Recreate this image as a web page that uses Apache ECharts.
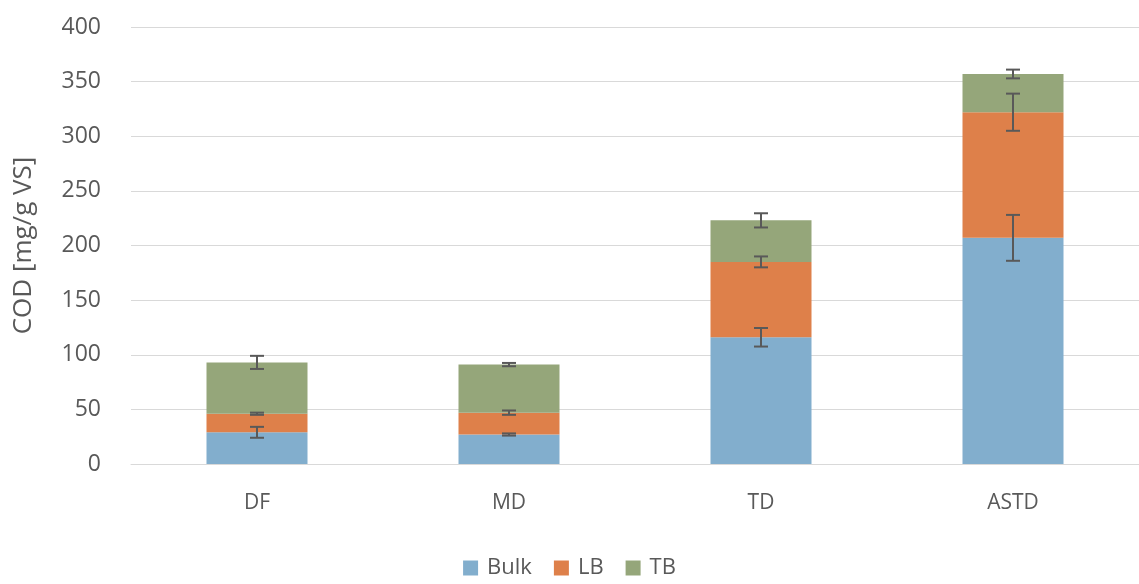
<!DOCTYPE html>
<html>
<head>
<meta charset="utf-8">
<script src="https://cdn.jsdelivr.net/npm/echarts@6/dist/echarts.min.js"></script>
<style>
  html, body { margin: 0; padding: 0; background: #fff; }
  #chart { width: 1139px; height: 584px; }
</style>
</head>
<body>
<div id="chart"></div>
<script>
// COD fractions per treatment (mg/g VS)
const categories = ['DF', 'MD', 'TD', 'ASTD'];
const bulk = [29, 27, 116, 207];
const lb = [17, 20, 69, 115];
const tb = [47, 44, 38, 35];
// standard deviations for each fraction
const bulkErr = [5, 1, 8.5, 21];
const lbErr = [1, 2, 5, 17];
const tbErr = [6, 1.5, 6.5, 4];
const yTicks = [0, 50, 100, 150, 200, 250, 300, 350, 400];

const FONT = '"Open Sans", "Liberation Sans", sans-serif';
const TEXT = '#595959';

// error bar data: [categoryIndex, stackedTop, err]
function errData(tops, errs) {
  return categories.map((c, i) => [i, tops[i], errs[i]]);
}
const bulkTop = bulk.slice();
const lbTop = bulk.map((v, i) => v + lb[i]);
const tbTop = lbTop.map((v, i) => v + tb[i]);

function errorSeries(name, tops, errs) {
  return {
    type: 'custom',
    name: name + ' err',
    z: 10,
    silent: true,
    data: errData(tops, errs),
    renderItem: function (params, api) {
      const x = api.value(0);
      const y = api.value(1);
      const e = api.value(2);
      const hi = api.coord([x, y + e]);
      const lo = api.coord([x, y - e]);
      const cap = 7;
      const style = { stroke: '#595959', lineWidth: 2 };
      return {
        type: 'group',
        children: [
          { type: 'line', shape: { x1: hi[0], y1: hi[1], x2: lo[0], y2: lo[1] }, style: style },
          { type: 'line', shape: { x1: hi[0] - cap, y1: hi[1], x2: hi[0] + cap, y2: hi[1] }, style: style },
          { type: 'line', shape: { x1: lo[0] - cap, y1: lo[1], x2: lo[0] + cap, y2: lo[1] }, style: style }
        ]
      };
    }
  };
}

const chart = echarts.init(document.getElementById('chart'));
chart.setOption({
  animation: false,
  backgroundColor: '#fff',
  grid: { left: 131, top: 27, width: 1016, height: 437 },
  legend: {
    bottom: 0,
    left: 'center',
    data: ['Bulk', 'LB', 'TB'],
    icon: 'rect',
    itemWidth: 15,
    itemHeight: 15,
    itemGap: 22,
    textStyle: { fontFamily: FONT, fontSize: 22, color: TEXT, padding: [0, 0, 0, 4] }
  },
  xAxis: {
    type: 'category',
    data: categories,
    axisLine: { show: true, lineStyle: { color: '#d9d9d9', width: 1 } },
    axisTick: { show: false },
    axisLabel: { fontFamily: FONT, fontSize: 21, color: TEXT, margin: 29 }
  },
  yAxis: {
    type: 'value',
    min: yTicks[0],
    max: yTicks[yTicks.length - 1],
    interval: 50,
    name: 'COD [mg/g VS]',
    nameLocation: 'middle',
    nameGap: 94,
    nameTextStyle: { fontFamily: FONT, fontSize: 26, color: TEXT },
    axisLine: { show: false },
    axisTick: { show: false },
    splitLine: { lineStyle: { color: '#d9d9d9', width: 1.2 } },
    axisLabel: { fontFamily: FONT, fontSize: 23, color: TEXT, margin: 30 }
  },
  series: [
    { name: 'Bulk', type: 'bar', stack: 'cod', data: bulk, barWidth: 101, itemStyle: { color: '#82aecd' } },
    { name: 'LB', type: 'bar', stack: 'cod', data: lb, barWidth: 101, itemStyle: { color: '#de804a' } },
    { name: 'TB', type: 'bar', stack: 'cod', data: tb, barWidth: 101, itemStyle: { color: '#95a67a' } },
    errorSeries('Bulk', bulkTop, bulkErr),
    errorSeries('LB', lbTop, lbErr),
    errorSeries('TB', tbTop, tbErr)
  ]
});
</script>
</body>
</html>
